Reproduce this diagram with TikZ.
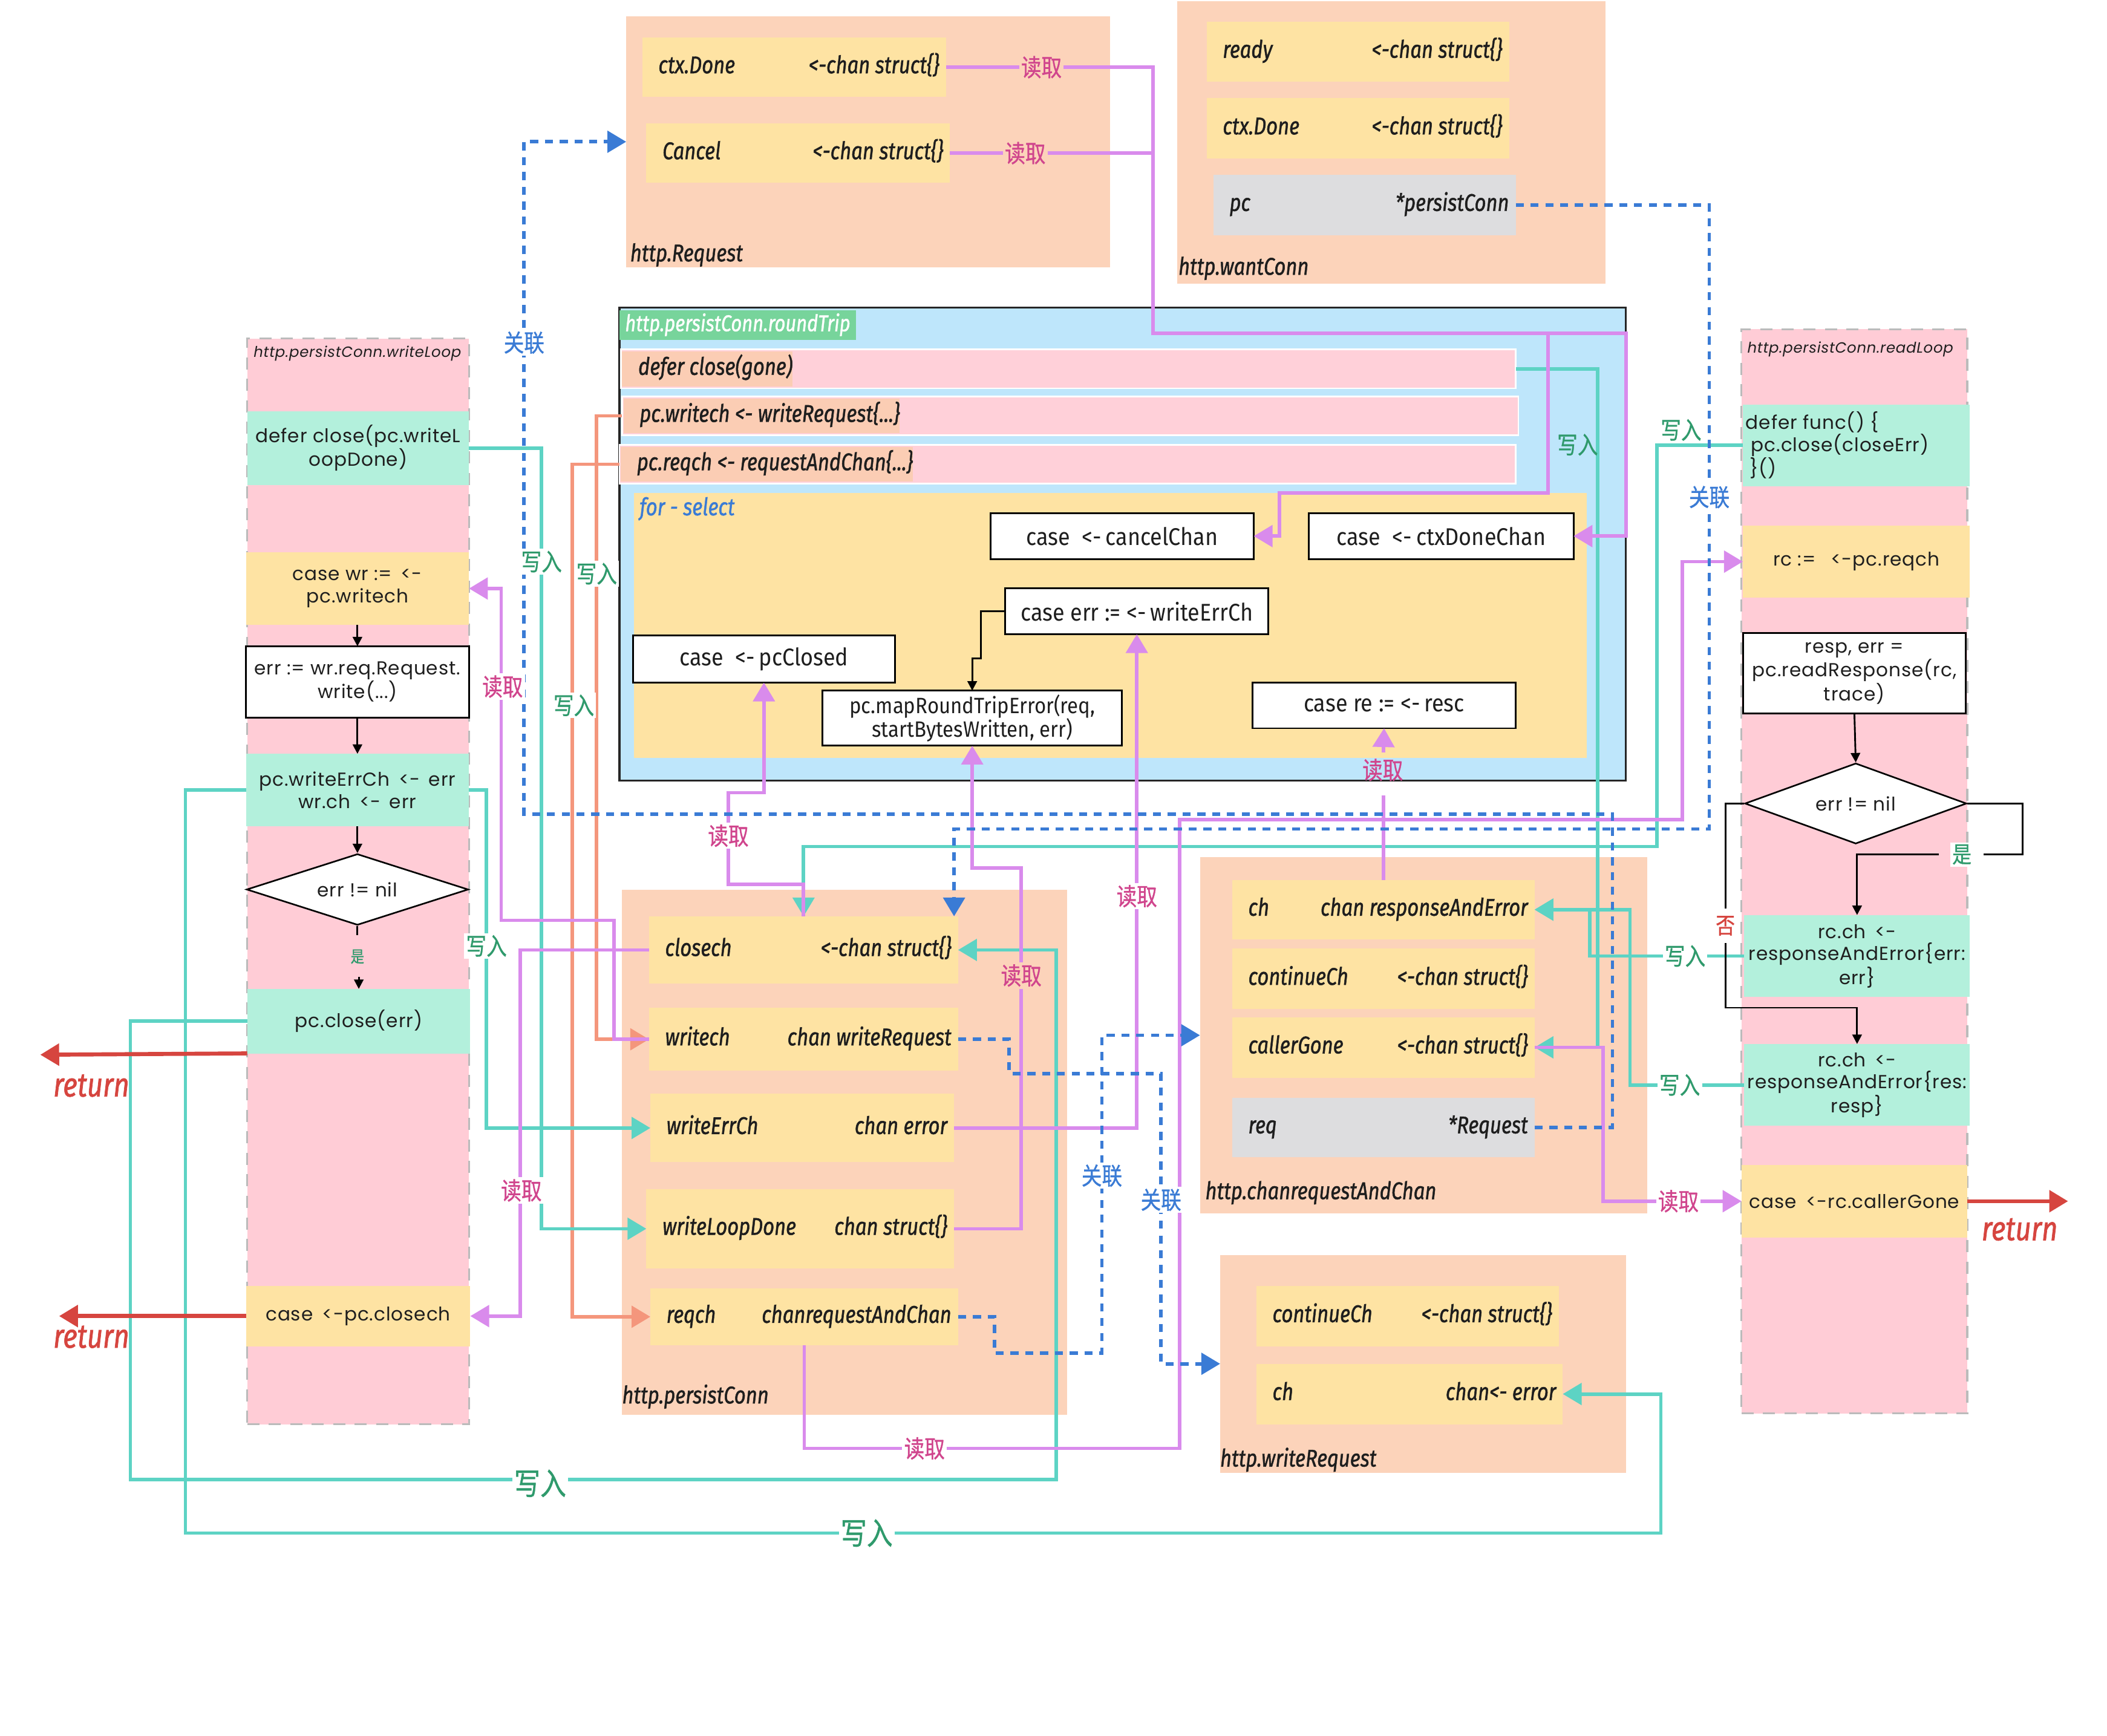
\documentclass[tikz,border=0pt]{standalone}
\usepackage{fontspec}
\setmainfont{Fira Sans}
\newfontfamily\cfont[FakeStretch=0.82,FakeBold=1.2]{Fira Sans}
\newfontfamily\cufont[FakeStretch=0.9]{Fira Sans}
\newfontfamily\ppfont[LetterSpace=3]{Poppins}
\newfontfamily\cjkfont[FakeStretch=0.84,FakeBold=0.8]{Noto Sans CJK SC}
\usetikzlibrary{arrows.meta,shapes.geometric,calc}
\definecolor{peach}{HTML}{FCD3BA}
\definecolor{fyel}{HTML}{FEE3A3}
\definecolor{fgrey}{HTML}{DDDDDF}
\definecolor{colpink}{HTML}{FFCCD6}
\definecolor{mint}{HTML}{B3F0DC}
\definecolor{rtblue}{HTML}{BEE6FB}
\definecolor{rtgreen}{HTML}{77D49B}
\definecolor{rowpink}{HTML}{FFD0D9}
\definecolor{hlpeach}{HTML}{FBCDB4}
\definecolor{mag}{HTML}{D98BEC}
\definecolor{lteal}{HTML}{5DD3C4}
\definecolor{salm}{HTML}{F4967C}
\definecolor{relblue}{HTML}{3A7BD5}
\definecolor{retred}{HTML}{D6453F}
\definecolor{rdtxt}{HTML}{D0458D}
\definecolor{wttxt}{HTML}{2F9A6C}
\definecolor{dashgray}{HTML}{BBBBBB}
\definecolor{txt}{HTML}{1E1E1E}
\newcommand\bx[7]{\node[inner sep=0pt, outer sep=0pt, anchor=north west, minimum width={(#4-#2)*1pt}, minimum height={(#5-#3)*1pt}, #6] (#1) at (#2,#3) {#7};}
\newcommand\fld[8]{\bx{#1}{#2}{#3}{#4}{#5}{fill=#6}{}
  \node[fldtext, anchor=west] (#1L) at ($(#1.west)+(12,0)$) {#7};
  \node[fldtext, anchor=east] (#1R) at ($(#1.east)+(-5,0)$) {#8};}
\tikzset{
 fldtext/.style={inner sep=0pt, outer sep=0pt, text=txt, font=\cfont\itshape\fontsize{18}{20}\selectfont, text height=12.5pt, text depth=3.5pt},
 lbl/.style={fldtext, anchor=west},
 casebox/.style={draw=black, line width=1.3pt, fill=white, text=txt, align=center, font=\cufont\fontsize{18}{19}\selectfont},
 flow/.style={text=txt, align=center, font=\ppfont\fontsize{14}{16.5}\selectfont},
 coltitle/.style={text=txt, font=\ppfont\itshape\fontsize{11}{12}\selectfont, inner sep=0pt},
 rd/.style={draw=mag, line width=2.6pt},
 wt/.style={draw=lteal, line width=2.6pt},
 sl/.style={draw=salm, line width=2.6pt},
 rel/.style={draw=relblue, line width=2.6pt, dash pattern=on 6pt off 5pt},
 ret/.style={draw=retred, line width=3pt},
 blk/.style={draw=black, line width=1.3pt},
 arr/.style={-{Triangle[length=14pt,width=16pt]}},
 barr/.style={-{Triangle[length=7pt,width=7pt]}},
 cjkl/.style={font=\cjkfont\fontsize{18}{18}\selectfont, inner sep=1.5pt, fill=white},
 rdlbl/.style={cjkl, text=rdtxt},
 wtlbl/.style={cjkl, text=wttxt},
 wtbig/.style={cjkl, text=wttxt, font=\cjkfont\fontsize{23}{23}\selectfont},
 rellbl/.style={cjkl, text=relblue},
 retlbl/.style={text=retred, font=\cfont\itshape\fontsize{25}{25}\selectfont, inner sep=0pt},
 dia/.style={diamond, aspect=5, draw=black, line width=1.2pt, fill=white, inner sep=0pt, flow},
}
\begin{document}
\begin{tikzpicture}[x=1pt,y=-1pt]
\useasboundingbox (0,0) rectangle (1568,1292);
\fill[white] (0,0) rectangle (1568,1292);

% ---------- http.Request
\bx{reqBox}{466}{12}{826}{199}{fill=peach}{}
\fld{reqCtx}{478}{28}{704}{72}{fyel}{ctx.Done}{<-chan struct\{\}}
\fld{reqCancel}{481}{92}{707}{136}{fyel}{Cancel}{<-chan struct\{\}}
\node[lbl] (reqLbl) at (469,190) {http.Request};

% ---------- http.wantConn
\bx{wcBox}{876}{1}{1195}{211}{fill=peach}{}
\fld{wcReady}{898}{16}{1123}{61}{fyel}{ready}{<-chan struct\{\}}
\fld{wcCtx}{898}{73}{1123}{118}{fyel}{ctx.Done}{<-chan struct\{\}}
\fld{wcPc}{903}{130}{1128}{175}{fgrey}{pc}{*persistConn}
\node[lbl] (wcLbl) at (877,200) {http.wantConn};

% ---------- roundTrip
\bx{rtBox}{461}{229}{1210}{581}{fill=rtblue, draw=black!85, line width=1.5pt}{}
\bx{rtTitle}{461}{231}{637}{253}{fill=rtgreen, fldtext, text=white, font=\cfont\itshape\fontsize{17}{18}\selectfont}{http.persistConn.roundTrip}
\bx{rtDefer}{462}{260}{1128}{289}{fill=rowpink, draw=white, line width=1.2pt}{}
\node[fldtext, anchor=west, fill=hlpeach, minimum height=26pt] (rtDeferT) at ($(rtDefer.west)+(1,0)$) {\hspace{12pt}defer close(gone)\hspace{2pt}};
\bx{rtWritech}{463}{295}{1130}{324}{fill=rowpink, draw=white, line width=1.2pt}{}
\node[fldtext, anchor=west, fill=hlpeach, minimum height=26pt] (rtWritechT) at ($(rtWritech.west)+(1,0)$) {\hspace{12pt}pc.writech <- writeRequest\{...\}\hspace{2pt}};
\bx{rtReqch}{461}{331}{1128}{360}{fill=rowpink, draw=white, line width=1.2pt}{}
\node[fldtext, anchor=west, fill=hlpeach, minimum height=26pt] (rtReqchT) at ($(rtReqch.west)+(1,0)$) {\hspace{12pt}pc.reqch <- requestAndChan\{...\}\hspace{2pt}};
\bx{fsBox}{472}{367}{1181}{564}{fill=fyel}{}
\node[lbl, text=relblue] (fsLbl) at (476,379) {for - select};
\bx{cCancel}{737}{382}{933}{416}{casebox}{case\enspace<-\,cancelChan}
\bx{cCtx}{974}{382}{1171}{416}{casebox}{case\enspace<-\,ctxDoneChan}
\bx{cWErr}{748}{438}{944}{472}{casebox}{case err := <-\,writeErrCh}
\bx{cPcClosed}{471}{473}{666}{508}{casebox}{case\enspace<-\,pcClosed}
\bx{cMap}{612}{514}{835}{555}{casebox, font=\cufont\fontsize{16.5}{17.5}\selectfont}{pc.mapRoundTripError(req,\\startBytesWritten, err)}
\bx{cResc}{932}{508}{1128}{542}{casebox}{case re := <-\,resc}

% ---------- writeLoop
\bx{wlCol}{184}{252}{349}{1060}{fill=colpink, draw=dashgray, dash pattern=on 9pt off 7pt, line width=1.4pt}{}
\node[coltitle] (wlTitle) at (266,263) {http.persistConn.writeLoop};
\bx{wlDefer}{184}{306}{349}{361}{flow, fill=mint}{defer close(pc.writeL\\oopDone)}
\bx{wlCase}{183}{411}{349}{465}{flow, fill=fyel}{case wr := \,<-\\pc.writech}
\bx{wlErr}{183}{481}{349}{534}{flow, fill=white, draw=black, line width=1.3pt}{err := wr.req.Request.\\write(...)}
\bx{wlSend}{183}{561}{349}{615}{flow, fill=mint}{pc.writeErrCh \,<- \,err\\wr.ch \,<- \,err}
\node[dia, minimum width=165pt, minimum height=53pt] (wlDia) at (266,662) {err != nil};
\bx{wlClose}{184}{736}{350}{784}{flow, fill=mint}{pc.close(err)}
\bx{wlClosech}{183}{957}{350}{1002}{flow, fill=fyel}{case\enspace<-pc.closech}

% ---------- readLoop
\bx{rlCol}{1296}{245}{1464}{1052}{fill=colpink, draw=dashgray, dash pattern=on 9pt off 7pt, line width=1.4pt}{}
\node[coltitle] (rlTitle) at (1377,260) {http.persistConn.readLoop};
\bx{rlDefer}{1297}{301}{1466}{362}{fill=mint}{}
\node[flow, align=left, anchor=west, inner sep=0pt] (rlDeferT) at ($(rlDefer.west)+(2,0)$) {defer func() \{\\\hspace{4pt}pc.close(closeErr)\\\hspace{3pt}\}()};
\bx{rlRc}{1297}{391}{1466}{445}{flow, fill=fyel}{rc := \enspace<-pc.reqch}
\bx{rlRead}{1297}{471}{1463}{531}{flow, fill=white, draw=black, line width=1.3pt}{resp, err =\\pc.readResponse(rc,\\trace)}
\node[dia, minimum width=165pt, minimum height=60pt] (rlDia) at (1381,598) {err != nil};
\bx{rlErr}{1298}{681}{1466}{742}{flow, fill=mint}{rc.ch \,<-\\responseAndError\{err:\\err\}}
\bx{rlRes}{1298}{777}{1466}{838}{flow, fill=mint}{rc.ch \,<-\\responseAndError\{res:\\resp\}}
\bx{rlGone}{1296}{867}{1464}{921}{flow, fill=fyel}{case\enspace<-rc.callerGone}

% ---------- persistConn
\bx{pcBox}{463}{662}{794}{1053}{fill=peach}{}
\fld{pcClosech}{483}{682}{713}{732}{fyel}{closech}{<-chan struct\{\}}
\fld{pcWritech}{483}{750}{713}{797}{fyel}{writech}{chan writeRequest}
\fld{pcWErr}{484}{814}{710}{865}{fyel}{writeErrCh}{chan error}
\fld{pcWLD}{481}{885}{710}{944}{fyel}{writeLoopDone}{chan struct\{\}}
\fld{pcReqch}{484}{959}{713}{1001}{fyel}{reqch}{chanrequestAndChan}
\node[lbl] (pcLbl) at (463,1040) {http.persistConn};

% ---------- chanrequestAndChan
\bx{crBox}{893}{638}{1226}{903}{fill=peach}{}
\fld{crCh}{917}{655}{1142}{699}{fyel}{ch}{chan responseAndError}
\fld{crCont}{917}{706}{1142}{751}{fyel}{continueCh}{<-chan struct\{\}}
\fld{crGone}{917}{757}{1142}{802}{fyel}{callerGone}{<-chan struct\{\}}
\fld{crReq}{917}{817}{1142}{861}{fgrey}{req}{*Request}
\node[lbl] (crLbl) at (897,888) {http.chanrequestAndChan};

% ---------- writeRequest
\bx{wrBox}{908}{934}{1210}{1096}{fill=peach}{}
\fld{wrCont}{935}{957}{1160}{1002}{fyel}{continueCh}{<-chan struct\{\}}
\fld{wrCh}{935}{1015}{1163}{1060}{fyel}{ch}{chan<- error}
\node[lbl] (wrLbl) at (908,1087) {http.writeRequest};

% ---------- free ends
\coordinate (ret1) at (30,785);
\coordinate (ret2) at (44,979.5);
\coordinate (ret3) at (1539,894);

% ---------- salmon (write)
\draw[sl, arr] (rtWritech.west) -- (444,309.5) -- (444,773.5) -- (pcWritech.west);
\draw[sl, arr] (rtReqch.west) -- (426,345.5) -- (426,980) -- (pcReqch.west);

% ---------- teal (write)
\draw[wt, arr] (rtDefer.east) -- (1189,274.5) -- (1189,779.5) -- (crGone.east);
\draw[wt, arr] (rlDefer.west) -- (1233,331.5) -- (1233,630) -- (598,630) -- (pcClosech.north);
\draw[wt, arr] (wlClose.west) -- (97,760) -- (97,1101) -- (786,1101) -- (786,707) -- (pcClosech.east);
\draw[wt, arr] (wlSend.west) -- (138,588) -- (138,1141) -- (1236,1141) -- (1236,1037.5) -- (wrCh.east);
\draw[wt, arr] (wlSend.east) -- (362,588) -- (362,839.5) -- (pcWErr.west);
\draw[wt, arr] (wlDefer.east) -- (403,333.5) -- (403,914.5) -- (pcWLD.west);
\draw[wt, arr] (rlErr.west) -- (1183,711.5) -- (1183,677) -- (crCh.east);
\draw[wt, arr] (rlRes.west) -- (1213,807.5) -- (1213,677) -- (crCh.east);

% ---------- magenta (read)
\draw[rd, arr] (reqCtx.east) -- (858,50) -- (858,248) -- (1210,248) -- (1210,399) -- (cCtx.east);
\draw[rd, arr] (reqCancel.east) -- (858,114) -- (858,248) -- (1152,248) -- (1152,367) -- (952,367) -- (952,399) -- (cCancel.east);
\draw[rd, arr] (pcClosech.north) -- (598,658) -- (542,658) -- (542,590) -- (568.5,590) -- (cPcClosed.south);
\draw[rd, arr] (pcClosech.west) -- (387,707) -- (387,979.5) -- (wlClosech.east);
\draw[rd, arr] (pcWritech.west) -- (457,773.5) -- (457,685) -- (373,685) -- (373,438) -- (wlCase.east);
\draw[rd, arr] (pcWErr.east) -- (846,839.5) -- (cWErr.south);
\draw[rd, arr] (pcWLD.east) -- (760,914.5) -- (760,646) -- (723.5,646) -- (cMap.south);
\draw[rd, arr] (pcReqch.south) -- (598.5,1078) -- (878,1078) -- (878,610) -- (1252,610) -- (1252,418) -- (rlRc.west);
\draw[rd] (crCh.north) -- (1029.5,592);
\draw[rd, arr] (1029.5,560) -- (cResc.south);
\draw[rd, arr] (crGone.east) -- (1193,779.5) -- (1193,894) -- (rlGone.west);

% ---------- blue dashed (relation)
\draw[rel, arr] (crReq.east) -- (1200,839) -- (1200,606) -- (390,606) -- (390,105.5) -- (reqBox.west);
\draw[rel, arr] (wcPc.east) -- (1272,152.5) -- (1272,617) -- (710,617) -- ($(pcClosech.north east)+(-3,0)$);
\draw[rel, arr] (pcWritech.east) -- (751,773.5) -- (751,799) -- (864,799) -- (864,1015) -- (wrBox.west);
\draw[rel, arr] (pcReqch.east) -- (740,980) -- (740,1007) -- (820,1007) -- (820,770.5) -- (crBox.west);

% ---------- black flow
\draw[blk, barr] (wlCase.south) -- (wlErr.north);
\draw[blk, barr] (wlErr.south) -- (wlSend.north);
\draw[blk, barr] (wlSend.south) -- (wlDia.north);
\draw[blk] (wlDia.south) -- ++(0,7);
\draw[blk, barr] ($(wlClose.north)+(0,-9)$) -- (wlClose.north);
\node[cjkl, fill=colpink, text=wttxt, font=\cjkfont\fontsize{12}{12}\selectfont] (shiA) at (266,712) {是};
\draw[blk, barr] (cWErr.west) -- (730,455) -- (730,490) -- (723.5,490) -- (cMap.north);
\draw[blk, barr] (rlRead.south) -- (rlDia.north);
\draw[blk] (rlDia.east) -- (1505,598) -- (1505,636) -- (1476,636);
\draw[blk, barr] (1443,636) -- (1382,636) -- (rlErr.north);
\draw[blk] (rlDia.west) -- (1284,598) -- (1284,676);
\draw[blk, barr] (1284,702) -- (1284,750) -- (1382,750) -- (rlRes.north);
\node[cjkl, text=wttxt, font=\cjkfont\fontsize{17}{17}\selectfont] (shiB) at (1460,636) {是};
\node[cjkl, text=retred, font=\cjkfont\fontsize{17}{17}\selectfont] (fou) at (1284,689) {否};

% ---------- red returns
\draw[ret, arr] (wlClose.south west) -- (ret1);
\draw[ret, arr] (wlClosech.west) -- (ret2);
\draw[ret, arr] (rlGone.east) -- (ret3);
\node[retlbl] (retA) at (68,808) {return};
\node[retlbl] (retB) at (68,995) {return};
\node[retlbl] (retC) at (1503,915) {return};

% ---------- labels
\node[rdlbl, fill=peach] (l1) at (775,50) {读取};
\node[rdlbl, fill=peach] (l2) at (763,114) {读取};
\node[rdlbl] (l3) at (542,622) {读取};
\node[rdlbl] (l4) at (388,886) {读取};
\node[rdlbl] (l5) at (374,511) {读取};
\node[rdlbl] (l6) at (846,667) {读取};
\node[rdlbl, fill=peach] (l7) at (760,726) {读取};
\node[rdlbl] (l8) at (688,1078) {读取};
\node[rdlbl, fill=none] (l9) at (1029,573) {读取};
\node[rdlbl] (l10) at (1249,894) {读取};
\node[wtlbl, fill=none] (w1) at (1174,331) {写入};
\node[wtlbl] (w2) at (1251,320) {写入};
\node[wtbig] (w3) at (402,1104) {写入};
\node[wtbig] (w4) at (645,1141) {写入};
\node[wtlbl] (w5) at (362,704) {写入};
\node[wtlbl] (w6) at (403,418) {写入};
\node[wtlbl] (w7) at (1254,711.5) {写入};
\node[wtlbl] (w8) at (1250,807.5) {写入};
\node[wtlbl] (w9) at (444,427) {写入};
\node[wtlbl] (w10) at (427,525) {写入};
\node[rellbl] (g1) at (390,255) {关联};
\node[rellbl] (g2) at (1272,370) {关联};
\node[rellbl] (g3) at (864,893) {关联};
\node[rellbl] (g4) at (820,875) {关联};
\end{tikzpicture}
\end{document}
